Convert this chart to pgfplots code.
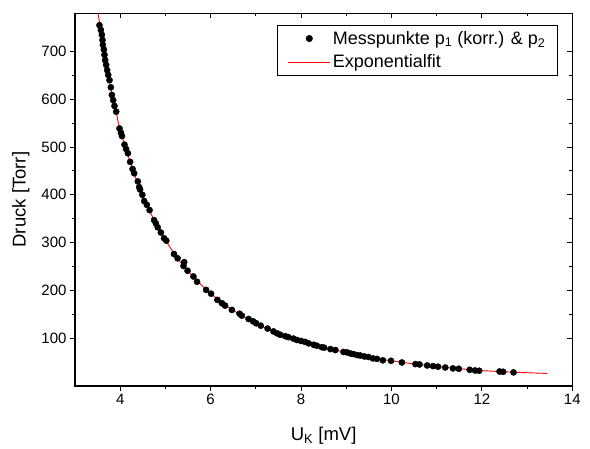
\documentclass[border=0pt]{standalone}
\usepackage{fontspec}
\setmainfont{Liberation Sans}
\usepackage{pgfplots}
\pgfplotsset{compat=1.18}

% Messpunkte p1 (korr.) & p2
\pgfplotstableread{
U p
3.542 755
3.573 745
3.595 735
3.609 724
3.617 714
3.639 704
3.653 693
3.668 682
3.690 672
3.712 661
3.735 651
3.764 640
3.794 625
3.816 609
3.845 598
3.874 586
3.912 574
3.985 539
4.016 530
4.040 523
4.095 505
4.130 496
4.170 487
4.221 469
4.274 454
4.310 445
4.390 428
4.420 416
4.440 411
4.490 400
4.530 387
4.590 379
4.650 368
4.750 347
4.790 340
4.830 332
4.900 321
4.970 309
5.020 304
5.190 276
5.270 267
5.400 251
5.416 259
5.490 241
5.620 229
5.700 218
5.900 201
6.010 193
6.150 180
6.250 173
6.320 168
6.470 159
6.640 151
6.690 147
6.840 140
6.940 135
7.010 131
7.110 126
7.260 120
7.390 114
7.470 110
7.540 107
7.650 104
7.720 102
7.830 99
7.910 96
8.000 94
8.090 92
8.170 89
8.280 86
8.350 84
8.460 81
8.510 80
8.650 77
8.760 75
8.940 71
9.020 70
9.100 67.5
9.160 66.5
9.240 64.5
9.310 63.5
9.400 61.5
9.490 60.5
9.590 57.5
9.680 56.5
9.810 53.5
9.990 52.5
10.23 49
10.53 45.6
10.62 44.8
10.79 42.7
10.92 41.4
11.03 40.2
11.19 38.5
11.36 36.6
11.49 35.8
11.73 33.7
11.85 32.2
11.94 31.6
12.39 30.1
12.47 29.5
12.70 28.2
}\messdata

% Exponentialfit
\pgfplotstableread{
U p
3.50 785
3.60 728
3.70 668
3.80 620
3.90 578
4.00 535
4.20 475
4.40 421
4.60 376
4.80 339
5.00 306
5.20 276
5.40 251
5.60 231
5.80 211
6.00 194
6.25 174
6.50 158
6.75 144
7.00 131
7.25 120
7.50 110
7.75 101
8.00 94
8.50 81
9.00 70
9.50 60.5
10.0 52.5
10.5 46
11.0 40.5
11.5 36
12.0 32
12.5 29.5
13.0 27.5
13.44 26
}\fitdata

\pgfplotsset{
  refbase/.style={
    scale only axis, width=497.5pt, height=372.7pt,
    xmin=3, xmax=14, ymin=0, ymax=780,
    xtick={4,6,...,14}, ytick={100,200,...,700},
    minor x tick num=1, minor y tick num=1,
    major tick length=5pt, minor tick length=3pt,
    every tick/.style={black, line width=1pt},
  },
  markleg/.style={legend image code/.code={%
    \draw[##1, only marks, mark repeat=2, mark phase=2]
      plot coordinates {(0pt,0pt) (21pt,0pt) (42pt,0pt)};}},
  lineleg/.style={legend image code/.code={%
    \draw[draw=red, line width=1pt] (0pt,0pt) -- (42pt,0pt);}},
}

\begin{document}
\begin{tikzpicture}
\begin{axis}[refbase, name=ax,
  tick align=outside, xtick pos=left, ytick pos=left,
  axis line style={line width=1.3pt},
  /pgf/number format/assume math mode=true,
  ticklabel style={font=\fontsize{15}{18}\selectfont},
  label style={font=\fontsize{18.5}{22}\selectfont},
  xlabel={U\textsubscript{K} [mV]},
  xlabel style={yshift=-15pt},
  ylabel={Druck [Torr]},
  ylabel style={yshift=5pt},
  legend style={at={(0.971,0.969)}, anchor=north east,
    line width=0.8pt, font=\fontsize{18}{21}\selectfont,
    inner xsep=10pt, inner ysep=4pt, row sep=5pt,
    /tikz/every even column/.style={column sep=9pt}},
  legend cell align=left,
]
\addplot[only marks, mark=*, mark size=3.1pt,
  mark options={fill=black, draw=black}, markleg]
  table[x=U, y=p] {\messdata};
\addlegendentry{Messpunkte p\textsubscript{1} (korr.) \& p\textsubscript{2}}
\addplot[red, line width=0.9pt, smooth, no marks, lineleg]
  table[x=U, y=p] {\fitdata};
\addlegendentry{Exponentialfit}
\end{axis}
\begin{axis}[refbase,
  axis line style={draw=none},
  tick align=inside, xtick pos=right, ytick pos=right,
  xticklabels={}, yticklabels={}]
\end{axis}
\pgfresetboundingbox
\path[use as bounding box] ([xshift=-75pt,yshift=-63pt]ax.south west)
  rectangle ([xshift=17.7pt,yshift=13.3pt]ax.north east);
\end{tikzpicture}
\end{document}
